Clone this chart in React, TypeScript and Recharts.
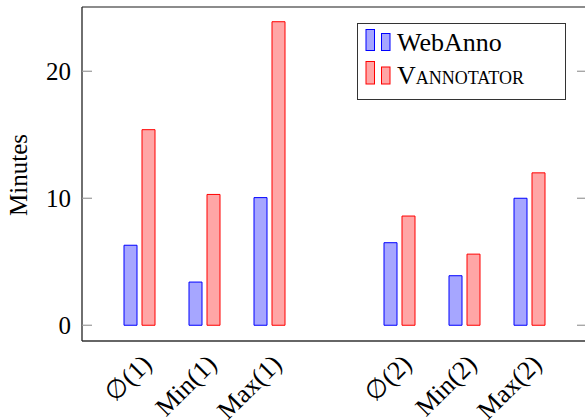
import { BarChart, Bar, XAxis, YAxis, Legend } from "recharts"

const categories = ["∅(1)", "Min(1)", "Max(1)", "", "∅(2)", "Min(2)", "Max(2)"]
const webAnno = [6.3, 3.4, 10.05, null, 6.5, 3.9, 10]
const vannotator = [15.4, 10.3, 23.9, null, 8.6, 5.6, 12]
const yTicks = [0, 10, 20]

const data = categories.map((name, i) => ({
  name,
  webAnno: webAnno[i],
  vannotator: vannotator[i],
}))

const FONT = "'Liberation Serif', 'DejaVu Serif', serif"
const DOMAIN: [number, number] = [-1.24, 25.06]
const BLUE_FILL = "#a6a6ff"
const RED_FILL = "#ffa6a6"

function LeftTick({ x, y, payload }: any) {
  return (
    <g>
      <line x1={x} y1={y} x2={x + 10} y2={y} stroke="#999" strokeWidth={1.2} />
      <text x={x - 11} y={y} dy="0.35em" textAnchor="end" fontFamily={FONT} fontSize={25} fill="#000">
        {payload.value}
      </text>
    </g>
  )
}

function RightTick({ x, y }: any) {
  return <line x1={x} y1={y} x2={x - 10} y2={y} stroke="#999" strokeWidth={1.2} />
}

function BottomTick({ x, y, payload }: any) {
  if (!payload.value) return null
  const tx = x + 8
  const ty = y + 19
  return (
    <text
      x={tx}
      y={ty}
      dy="0.3em"
      textAnchor="end"
      transform={`rotate(-45, ${tx}, ${ty})`}
      fontFamily={FONT}
      fontSize={26}
      fill="#000"
    >
      {payload.value}
    </text>
  )
}

function LegendBox() {
  return (
    <svg width={210} height={78} style={{ display: "block" }}>
      <rect x={0.5} y={0.5} width={208} height={76} fill="#fff" stroke="#333" strokeWidth={1} />
      <rect x={9} y={6.5} width={8.5} height={21} fill={BLUE_FILL} stroke="#00f" />
      <rect x={24.5} y={10.5} width={8.5} height={17} fill={BLUE_FILL} stroke="#00f" />
      <text x={40} y={27.5} fontFamily={FONT} fontSize={26} fill="#000">WebAnno</text>
      <rect x={9} y={38.5} width={8.5} height={22.5} fill={RED_FILL} stroke="#f00" />
      <rect x={24.5} y={44} width={8.5} height={17} fill={RED_FILL} stroke="#f00" />
      <text x={40} y={61} fontFamily={FONT} fontSize={26} fill="#000" style={{ fontVariant: "small-caps" }}>
        Vannotator
      </text>
    </svg>
  )
}

export default function App() {
  return (
    <div style={{ position: "absolute", left: 0, top: 0, width: 585, height: 420, overflow: "hidden", background: "#fff" }}>
      <BarChart
        width={600}
        height={420}
        data={data}
        margin={{ top: 6, right: 12, left: 0, bottom: 0 }}
        barSize={13}
        barGap={5}
      >
        <XAxis
          dataKey="name"
          height={79}
          padding={{ left: 25, right: 25 }}
          axisLine={{ stroke: "#333", strokeWidth: 1.3 }}
          tickLine={false}
          tickSize={0}
          tickMargin={0}
          interval={0}
          tick={<BottomTick />}
        />
        <XAxis
          xAxisId="top"
          orientation="top"
          dataKey="name"
          height={1}
          axisLine={{ stroke: "#666", strokeWidth: 1.5 }}
          tickLine={false}
          tick={false}
        />
        <YAxis
          type="number"
          domain={DOMAIN}
          ticks={yTicks}
          width={82}
          allowDataOverflow
          axisLine={{ stroke: "#222", strokeWidth: 1.3 }}
          tickLine={false}
          tickSize={0}
          tickMargin={0}
          tick={<LeftTick />}
          label={{
            content: () => (
              <text x={27} y={175} textAnchor="middle" transform="rotate(-90, 27, 175)" fontFamily={FONT} fontSize={25} fill="#000">
                Minutes
              </text>
            ),
          }}
        />
        <YAxis
          yAxisId="r"
          orientation="right"
          type="number"
          domain={DOMAIN}
          ticks={yTicks}
          width={1}
          allowDataOverflow
          axisLine={{ stroke: "#333", strokeWidth: 1.3 }}
          tickLine={false}
          tickSize={0}
          tickMargin={0}
          tick={<RightTick />}
        />
        <Legend
          layout="vertical"
          align="center"
          verticalAlign="middle"
          content={() => <LegendBox />}
          wrapperStyle={{ position: "absolute", left: 357, top: 23, width: 210, height: 78 }}
        />
        <Bar dataKey="webAnno" fill={BLUE_FILL} stroke="#00f" strokeWidth={1} isAnimationActive={false} />
        <Bar dataKey="vannotator" fill={RED_FILL} stroke="#f00" strokeWidth={1} isAnimationActive={false} />
      </BarChart>
    </div>
  )
}
